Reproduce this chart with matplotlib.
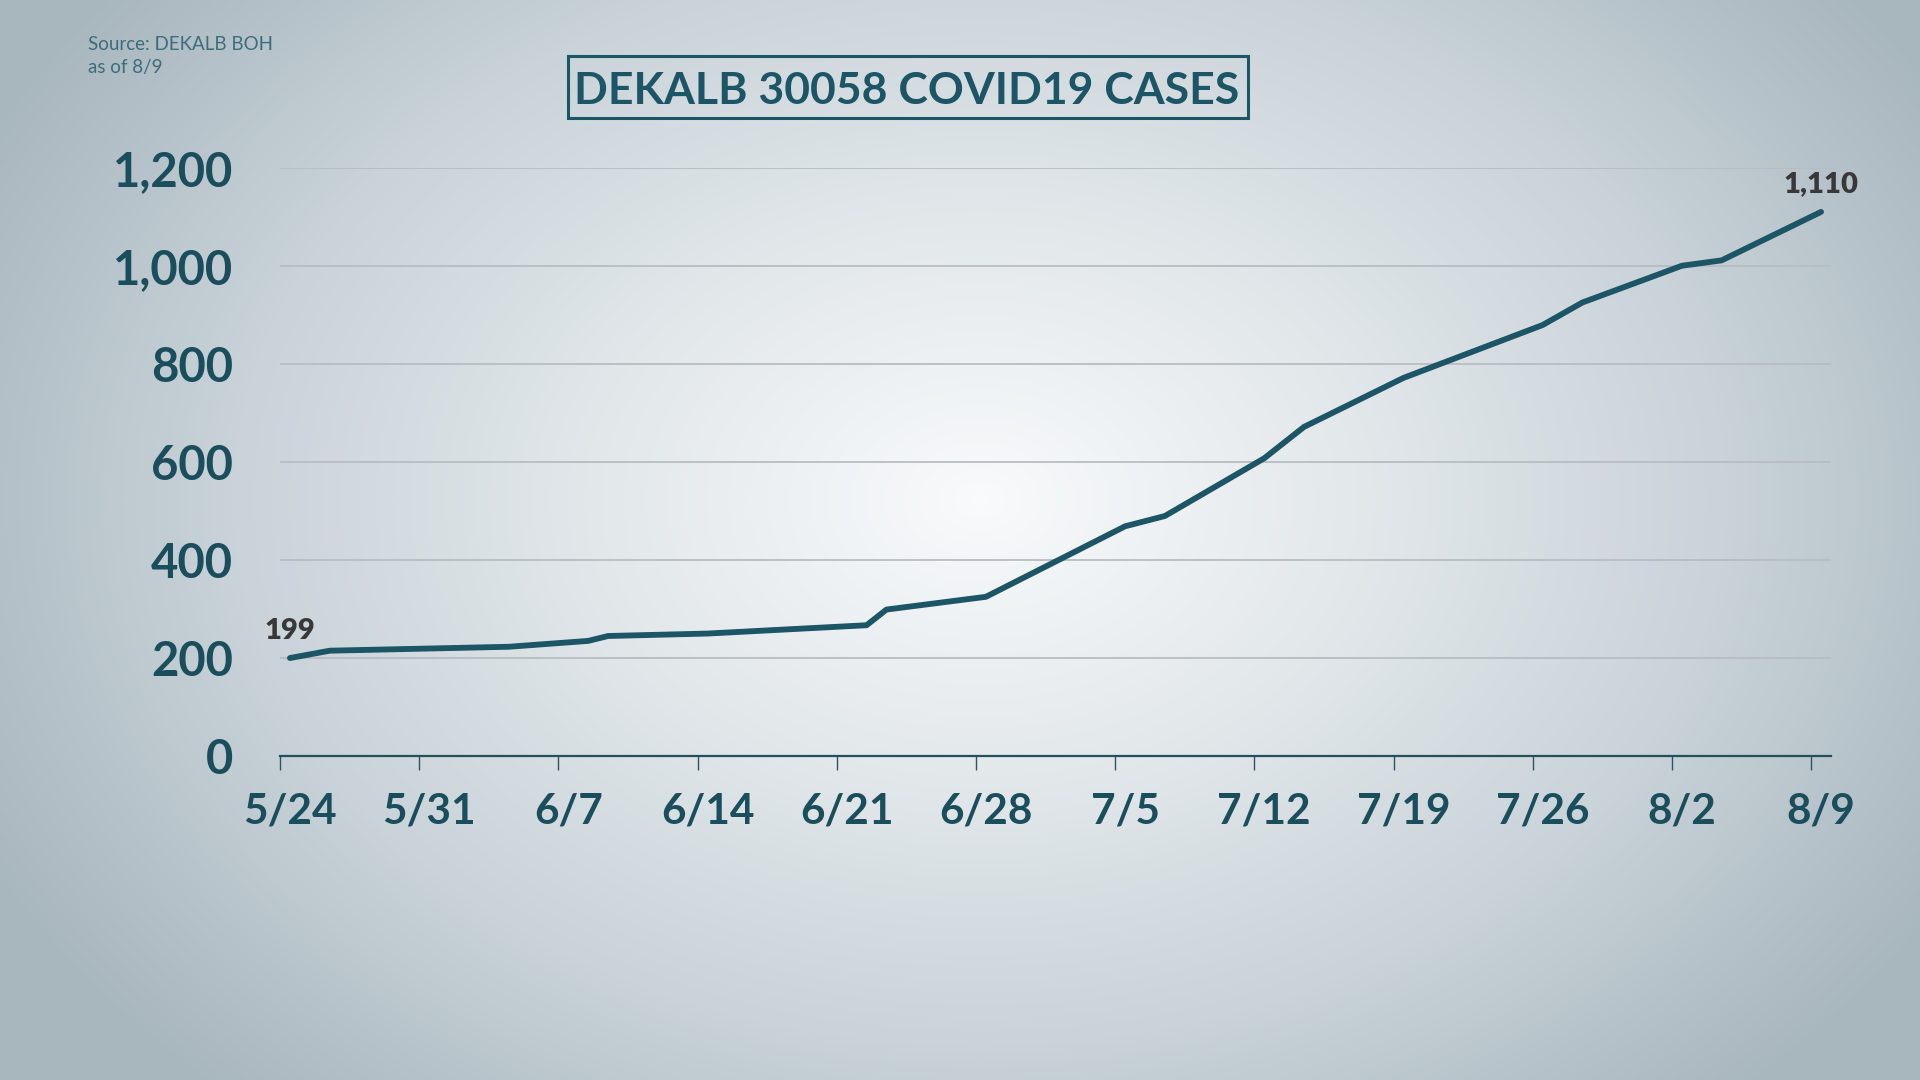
import numpy as np
import pandas as pd
import matplotlib
matplotlib.use("Agg")
import matplotlib.pyplot as plt
from matplotlib.patches import Rectangle
from matplotlib.colors import LinearSegmentedColormap

# ---- data ----
dates = ['5/24', '5/26', '6/4', '6/8', '6/9', '6/14', '6/22', '6/23', '6/28',
         '7/5', '7/7', '7/12', '7/14', '7/19', '7/26', '7/28', '8/2', '8/4', '8/9']
cases = [199, 214, 222, 234, 244, 249, 266, 298, 324,
         468, 489, 607, 671, 771, 879, 925, 1000, 1011, 1110]
tick_labels = ['5/24', '5/31', '6/7', '6/14', '6/21', '6/28', '7/5',
               '7/12', '7/19', '7/26', '8/2', '8/9']
y_ticks = [0, 200, 400, 600, 800, 1000, 1200]
title = 'DEKALB 30058 COVID19 CASES'
source_lines = ['Source: DEKALB BOH', 'as of 8/9']

def to_day(lbls):
    d = pd.to_datetime(['2020/' + s for s in lbls], format='%Y/%m/%d')
    return np.asarray((d - pd.Timestamp('2020-05-24')).days, dtype=float)

x = to_day(dates)
xt = to_day(tick_labels)

TEAL = '#1c5565'
LABEL = '#1b4e5c'
FONT = ['Lato', 'DejaVu Sans']

fig = plt.figure(figsize=(19.2, 10.8), dpi=100)

# ---- background radial gradient ----
bg = fig.add_axes([0, 0, 1, 1], zorder=-10)
W, H = 480, 270
gx, gy = np.meshgrid(np.linspace(0, 1920, W), np.linspace(0, 1080, H))
r = np.sqrt(((gx - 980) / 1120) ** 2 + ((gy - 500) / 820) ** 2)
r = np.clip(r, 0, 1)
cmap = LinearSegmentedColormap.from_list('bg', ['#f8fafb', '#e3e8eb', '#c9d3d9', '#a8b6be'])
bg.imshow(r, cmap=cmap, extent=[0, 1920, 1080, 0], aspect='auto', interpolation='bicubic')
bg.set_xlim(0, 1920)
bg.set_ylim(1080, 0)
bg.axis('off')

# ---- main axes ----
L, R, B, T = 280 / 1920, 1831 / 1920, 1 - 755.5 / 1080, 1 - 167.8 / 1080
ax = fig.add_axes([L, B, R - L, T - B])
ax.set_facecolor('none')
ax.plot(x, cases, color=TEAL, lw=4.2, solid_capstyle='round', solid_joinstyle='round',
        clip_on=False, zorder=5)
ax.set_xlim(-0.5, 77.5)
ax.set_ylim(0, 1200)

for s in ['top', 'right', 'left']:
    ax.spines[s].set_visible(False)
ax.spines['bottom'].set_color('#24505c')
ax.spines['bottom'].set_linewidth(1.6)

ax.set_yticks(y_ticks)
ax.set_yticklabels([f'{v:,}' for v in y_ticks])
ax.tick_params(axis='y', length=0, pad=34, labelsize=34, labelcolor=LABEL)
for t in ax.get_yticklabels():
    t.set_fontfamily(FONT)
    t.set_fontweight('bold')
ax.yaxis.grid(True, color='#b7bdc1', lw=1.3)
ax.set_axisbelow(True)

# major ticks at category boundaries (marks only), minor ticks with labels
ax.set_xticks(xt - 0.5)
ax.set_xticklabels([])
ax.tick_params(axis='x', which='major', length=10, width=1.0, color='#2b5561', direction='out')
ax.set_xticks(xt, minor=True)
ax.set_xticklabels(tick_labels, minor=True)
ax.tick_params(axis='x', which='minor', length=0, pad=27, labelsize=30.5, labelcolor=LABEL)
for t in ax.get_xticklabels(minor=True):
    t.set_fontfamily(FONT)
    t.set_fontweight('bold')

# end-point labels
for i in (0, len(cases) - 1):
    ax.annotate(f'{cases[i]:,}', (x[i], cases[i]), xytext=(0, 14), textcoords='offset points',
                ha='center', va='baseline', fontsize=21, fontweight='heavy',
                color='#383838', family=FONT, annotation_clip=False)

# ---- title box ----
fig.text(907 / 1920, 1 - 90.5 / 1080, title, ha='center', va='center', fontsize=32,
         fontweight='bold', color=TEAL, family=FONT)
fig.patches.append(Rectangle((568 / 1920, 1 - 118 / 1080), (1247.5 - 568) / 1920, 62 / 1080,
                             transform=fig.transFigure, fill=False, edgecolor=TEAL, lw=2.2))

# ---- source ----
fig.text(88 / 1920, 1 - 49.5 / 1080, source_lines[0], ha='left', va='baseline', fontsize=13.5,
         color='#3b6d7a', family=FONT)
fig.text(88 / 1920, 1 - 73.5 / 1080, source_lines[1], ha='left', va='baseline', fontsize=13.5,
         color='#3b6d7a', family=FONT)

fig.savefig('out.png', dpi=100)
